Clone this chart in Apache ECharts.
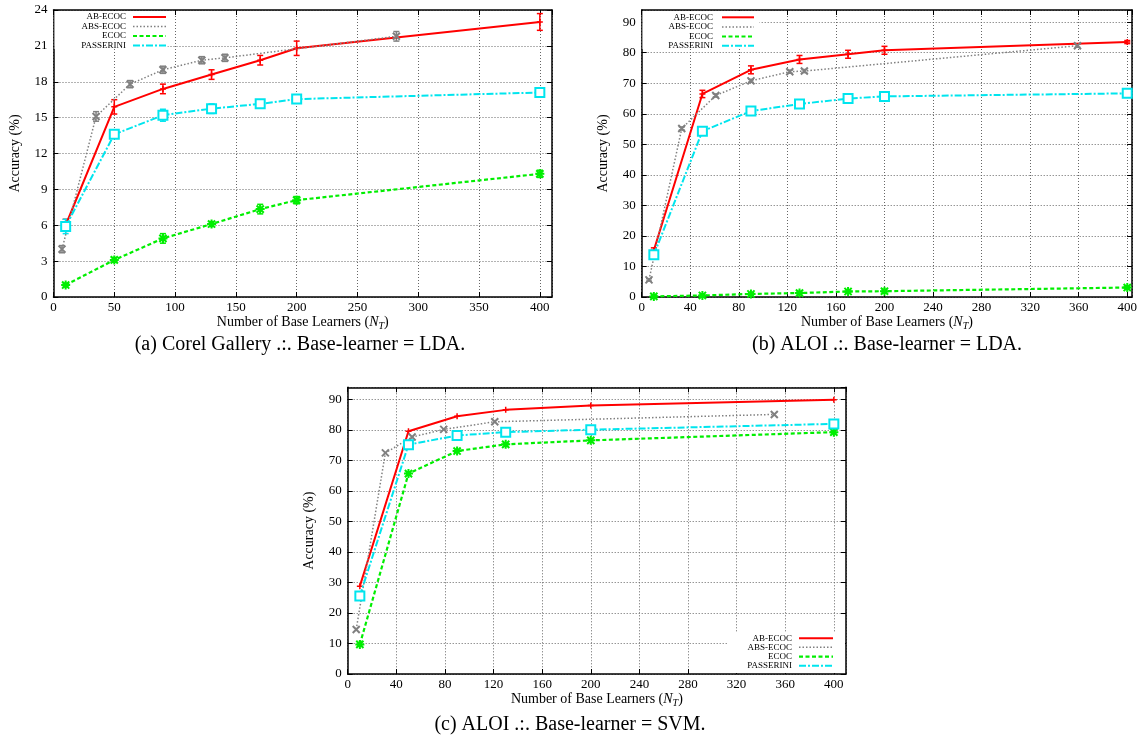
<!DOCTYPE html>
<html>
<head>
<meta charset="utf-8">
<script src="https://cdn.jsdelivr.net/npm/echarts@6/dist/echarts.min.js"></script>
<style>
  html, body { margin: 0; background: #fff; }
  #chart { width: 1140px; height: 740px; }
</style>
</head>
<body>
<div id="chart"></div>
<script>
// series names and captions
const seriesNames = ['AB-ECOC', 'ABS-ECOC', 'ECOC', 'PASSERINI'];
const captions = [
  '(a) Corel Gallery .:. Base-learner = LDA.',
  '(b) ALOI .:. Base-learner = LDA.',
  '(c) ALOI .:. Base-learner = SVM.'
];

// (a) Corel Gallery, LDA
const corelX = [10, 50, 90, 130, 170, 200, 400];
const corelAB = [6.0, 15.9, 17.4, 18.6, 19.8, 20.8, 23.0];
const corelABErr = [0.5, 0.6, 0.4, 0.4, 0.4, 0.6, 0.7];
const corelABSX = [7, 35, 63, 90, 122, 141, 282];
const corelABS = [4.0, 15.1, 17.8, 19.0, 19.8, 20.0, 21.8];
const corelABSErr = [0.3, 0.4, 0.3, 0.3, 0.3, 0.3, 0.4];
const corelECOC = [1.0, 3.1, 4.9, 6.1, 7.35, 8.1, 10.3];
const corelECOCErr = [0.15, 0.2, 0.4, 0.2, 0.4, 0.3, 0.3];
const corelPass = [5.9, 13.6, 15.2, 15.75, 16.15, 16.55, 17.1];
const corelPassErr = [0.6, 0.3, 0.5, 0.4, 0.3, 0.3, 0.3];

// (b) ALOI, LDA
const aloiX = [10, 50, 90, 130, 170, 200, 400];
const aloiAB = [15.3, 66.5, 74.4, 77.8, 79.5, 80.8, 83.5];
const aloiABErr = [0.8, 1.2, 1.3, 1.3, 1.3, 1.3, 0.5];
const aloiABSX = [6, 33, 61, 90, 122, 134, 359];
const aloiABS = [5.6, 55.2, 66.0, 70.8, 73.8, 74.0, 82.3];
const aloiABSErr = [0.4, 0.5, 0.5, 0.5, 0.5, 0.5, 0.5];
const aloiECOC = [0.2, 0.5, 1.0, 1.3, 1.8, 1.9, 3.1];
const aloiECOCErr = [0.3, 0.4, 0.4, 0.5, 0.6, 0.6, 0.4];
const aloiPass = [13.8, 54.3, 60.9, 63.2, 65.0, 65.7, 66.7];
const aloiPassErr = [0.6, 0.6, 0.6, 0.6, 0.6, 0.6, 0.6];

// (c) ALOI, SVM
const svmX = [10, 50, 90, 130, 200, 400];
const svmAB = [28.8, 79.6, 84.5, 86.6, 88.0, 89.9];
const svmABSX = [7, 31, 53, 79, 121, 351];
const svmABS = [14.6, 72.5, 77.7, 80.2, 82.7, 85.1];
const svmECOC = [9.7, 65.7, 73.1, 75.3, 76.6, 79.3];
const svmPass = [25.6, 75.2, 78.2, 79.3, 80.1, 82.0];

// axis ranges
const xMax = [410, 404, 410];
const xStep = [50, 40, 40];
const yMax = [24, 94, 94];
const yStep = [3, 10, 10];

const FONT = '"Liberation Serif", "DejaVu Serif", serif';
const plusPath = 'path://M5,0L5,10M0,5L10,5';
const crossPath = 'path://M0,0L10,10M10,0L0,10';
const starPath = 'path://M5,0L5,10M0,5L10,5M1,1L9,9M9,1L1,9';

const looks = [
  { color: '#ff0000', dash: 'solid', width: 2, symbol: plusPath, size: 6, bw: 1.5 },
  { color: '#808080', dash: [1.5, 2], width: 1.5, symbol: crossPath, size: 7, bw: 2 },
  { color: '#00ee00', dash: [4, 2.5], width: 2.2, symbol: starPath, size: 9, bw: 2 },
  { color: '#00e5ee', dash: [7, 2, 2, 2], width: 2, symbol: 'emptyRect', size: 9, bw: 1.5 }
];

const grids = [
  { left: 53.5, top: 10, width: 498.5, height: 287 },
  { left: 641.7, top: 10, width: 491, height: 287 },
  { left: 347.7, top: 387.3, width: 498.3, height: 286.7 }
];

// which data goes where: [xs, ys, errs] per series, per panel
const panels = [
  [[corelX, corelAB, corelABErr], [corelABSX, corelABS, corelABSErr], [corelX, corelECOC, corelECOCErr], [corelX, corelPass, corelPassErr]],
  [[aloiX, aloiAB, aloiABErr], [aloiABSX, aloiABS, aloiABSErr], [aloiX, aloiECOC, aloiECOCErr], [aloiX, aloiPass, aloiPassErr]],
  [[svmX, svmAB, null], [svmABSX, svmABS, null], [svmX, svmECOC, null], [svmX, svmPass, null]]
];

const xAxes = [], yAxes = [], series = [];
for (let g = 0; g < 3; g++) {
  const xName = '{t|Number of Base Learners (}{n|N}{s|T}{t|)}';
  xAxes.push({
    type: 'value', gridIndex: g, min: 0, max: xMax[g], interval: xStep[g],
    name: xName, nameLocation: 'middle', nameGap: 16,
    nameTextStyle: { rich: {
      t: { fontFamily: FONT, fontSize: 14, color: '#000', lineHeight: 18 },
      n: { fontFamily: FONT, fontSize: 14, fontStyle: 'italic', color: '#000', lineHeight: 18 },
      s: { fontFamily: FONT, fontSize: 10, fontStyle: 'italic', color: '#000', lineHeight: 9, verticalAlign: 'bottom' }
    } },
    axisLine: { onZero: false, lineStyle: { color: '#000', width: 1.5 } },
    axisTick: { inside: true, length: 5, lineStyle: { color: '#000' } },
    axisLabel: { fontFamily: FONT, fontSize: 13, color: '#000', margin: 4, showMaxLabel: false },
    splitLine: { show: true, lineStyle: { color: '#666', type: [1, 2], width: 1 } }
  });
  yAxes.push({
    type: 'value', gridIndex: g, min: 0, max: yMax[g], interval: yStep[g],
    name: 'Accuracy (%)', nameLocation: 'middle', nameGap: 31, nameRotate: 90,
    nameTextStyle: { fontFamily: FONT, fontSize: 14, color: '#000' },
    axisLine: { onZero: false, lineStyle: { color: '#000', width: 1.5 } },
    axisTick: { inside: true, length: 5, lineStyle: { color: '#000' } },
    axisLabel: { fontFamily: FONT, fontSize: 13, color: '#000', margin: 6, showMaxLabel: g === 0 },
    splitLine: { show: true, lineStyle: { color: '#666', type: [1, 2], width: 1 } }
  });
}
// mirrored frame with inward ticks
for (let g = 0; g < 3; g++) {
  xAxes.push({
    type: 'value', gridIndex: g, position: 'top', min: 0, max: xMax[g], interval: xStep[g],
    axisLine: { show: true, onZero: false, lineStyle: { color: '#000', width: 1.5 } },
    axisTick: { show: true, inside: true, length: 5, lineStyle: { color: '#000' } },
    axisLabel: { show: false }, splitLine: { show: false }
  });
  yAxes.push({
    type: 'value', gridIndex: g, position: 'right', min: 0, max: yMax[g], interval: yStep[g],
    axisLine: { show: true, onZero: false, lineStyle: { color: '#000', width: 1.5 } },
    axisTick: { show: true, inside: true, length: 5, lineStyle: { color: '#000' } },
    axisLabel: { show: false }, splitLine: { show: false }
  });
}

function errorBars(g, xs, ys, errs, color) {
  return {
    type: 'custom', xAxisIndex: g, yAxisIndex: g, silent: true, z: 3,
    data: xs.map((x, i) => [x, ys[i] - errs[i], ys[i] + errs[i]]),
    encode: { x: 0, y: [1, 2] },
    renderItem: function (params, api) {
      const lo = api.coord([api.value(0), api.value(1)]);
      const hi = api.coord([api.value(0), api.value(2)]);
      const st = { stroke: color, lineWidth: 1.5 };
      return { type: 'group', children: [
        { type: 'line', shape: { x1: lo[0], y1: lo[1], x2: hi[0], y2: hi[1] }, style: st },
        { type: 'line', shape: { x1: lo[0] - 3, y1: lo[1], x2: lo[0] + 3, y2: lo[1] }, style: st },
        { type: 'line', shape: { x1: hi[0] - 3, y1: hi[1], x2: hi[0] + 3, y2: hi[1] }, style: st }
      ] };
    }
  };
}

for (let g = 0; g < 3; g++) {
  panels[g].forEach((p, k) => {
    const [xs, ys, errs] = p;
    const lk = looks[k];
    if (errs) series.push(errorBars(g, xs, ys, errs, lk.color));
    series.push({
      name: seriesNames[k], type: 'line', xAxisIndex: g, yAxisIndex: g, z: 4 + k,
      data: xs.map((x, i) => [x, ys[i]]),
      symbol: lk.symbol, symbolSize: lk.size, showAllSymbol: true,
      lineStyle: { color: lk.color, width: lk.width, type: lk.dash },
      itemStyle: { color: lk.color, borderColor: lk.color, borderWidth: lk.bw },
      emphasis: { disabled: true }, animation: false
    });
  });
}

// legends drawn as boxes inside each panel
const legendSpots = [
  { box: [54.5, 11, 113, 38], textRight: 126, line: [133, 166], rows: [17, 26.5, 36, 45.5] },
  { box: [642.5, 11, 117, 38], textRight: 713, line: [722, 754], rows: [17.3, 27, 36.5, 45.7] },
  { box: [727, 632, 118, 41], textRight: 792, line: [799, 833], rows: [638.3, 647.3, 656.7, 665.7] }
];
const graphics = [];
legendSpots.forEach(L => {
  graphics.push({ type: 'rect', z: 10, shape: { x: L.box[0], y: L.box[1], width: L.box[2], height: L.box[3] }, style: { fill: '#fff' } });
  seriesNames.forEach((nm, k) => {
    const lk = looks[k];
    graphics.push({ type: 'text', z: 11, style: { text: nm, x: L.textRight, y: L.rows[k], align: 'right', verticalAlign: 'middle', fontFamily: FONT, fontSize: 9, fill: '#000' } });
    graphics.push({ type: 'line', z: 11, shape: { x1: L.line[0], y1: L.rows[k], x2: L.line[1], y2: L.rows[k] },
      style: { stroke: lk.color, lineWidth: lk.width, lineDash: lk.dash === 'solid' ? null : lk.dash } });
  });
});
const captionSpots = [[300, 345], [887, 345], [570, 725]];
captions.forEach((c, i) => {
  graphics.push({ type: 'text', z: 11, style: { text: c, x: captionSpots[i][0], y: captionSpots[i][1], align: 'center', verticalAlign: 'middle', fontFamily: FONT, fontSize: 20, fill: '#000' } });
});

const chart = echarts.init(document.getElementById('chart'), null, { renderer: 'canvas' });
chart.setOption({
  backgroundColor: '#fff',
  animation: false,
  grid: grids,
  xAxis: xAxes,
  yAxis: yAxes,
  series: series,
  graphic: graphics
});
</script>
</body>
</html>
